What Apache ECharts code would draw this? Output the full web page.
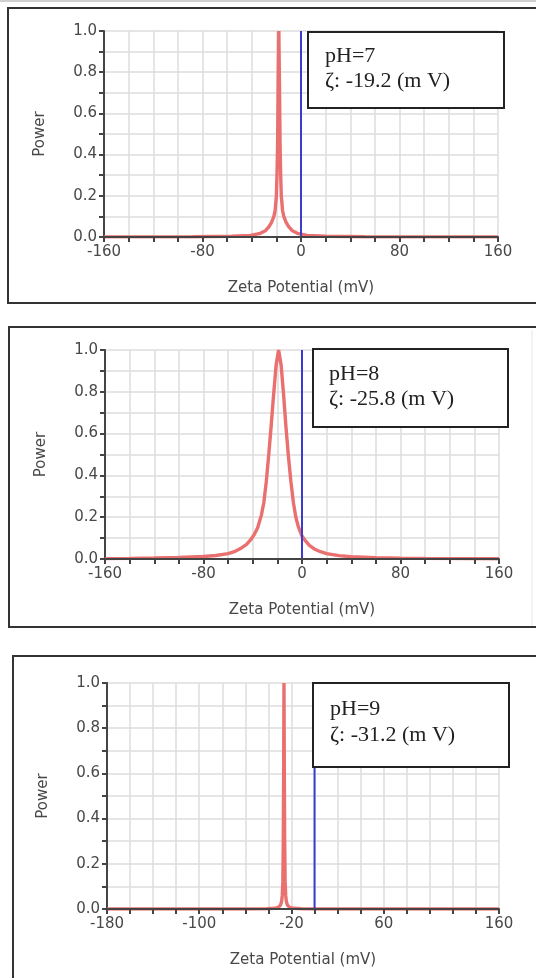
<!DOCTYPE html>
<html>
<head>
<meta charset="utf-8">
<script src="https://cdn.jsdelivr.net/npm/echarts@6/dist/echarts.min.js"></script>
<style>
html,body{margin:0;padding:0;background:#fff;}
#chart{width:536px;height:978px;}
</style>
</head>
<body>
<div id="chart"></div>
<script>
// ---- data ----
var xLabels12 = [-160, -80, 0, 80, 160];
var xLabels3 = [-180, -100, -20, 60, 160];
var yLabels = [0.0, 0.2, 0.4, 0.6, 0.8, 1.0];

// pH = 7 spectrum (x: mV, y: power)
var ph7 = [[-160,0.0005],[-88,0.0015],[-56,0.004],[-41,0.008],[-33,0.018],[-29,0.03],[-26,0.05],[-24,0.07],[-22,0.1],[-21,0.13],[-20,0.2],[-19.5,0.3],[-19,0.45],[-18.5,0.75],[-18,1.0],[-17.5,0.75],[-17,0.45],[-16.5,0.3],[-16,0.2],[-15,0.13],[-14,0.1],[-12,0.07],[-10,0.05],[-7,0.03],[-3,0.018],[5,0.008],[20,0.004],[52,0.0015],[160,0.0005]];
// pH = 8 spectrum
var ph8 = [[-160,0.002],[-140,0.003],[-120,0.005],[-100,0.008],[-80,0.012],[-70,0.017],[-60,0.026],[-55,0.035],[-50,0.05],[-45,0.07],[-42,0.09],[-39,0.115],[-36,0.15],[-33,0.21],[-31,0.27],[-29,0.37],[-27,0.5],[-25,0.64],[-23,0.79],[-21,0.93],[-19,1.0],[-17,0.93],[-15,0.79],[-13,0.63],[-11,0.49],[-9,0.37],[-7,0.27],[-5,0.2],[-3,0.155],[0,0.11],[3,0.085],[6,0.065],[10,0.048],[15,0.035],[20,0.026],[30,0.016],[40,0.011],[60,0.006],[80,0.004],[100,0.003],[130,0.002],[160,0.001]];
// pH = 9 spectrum
var ph9 = [[-180,0],[-60,0.0003],[-41.5,0.001],[-34.5,0.003],[-31.5,0.007],[-29.5,0.017],[-28.5,0.035],[-28,0.06],[-27.5,0.12],[-27.1,0.3],[-26.8,0.6],[-26.5,1.0],[-26.2,0.6],[-25.9,0.3],[-25.5,0.12],[-25,0.06],[-24.5,0.035],[-23.5,0.017],[-21.5,0.007],[-18.5,0.003],[-11.5,0.001],[0,0.0003],[160,0]];
// zero reference line
var zeroLine = [[0,0],[0,1]];

var titles = ['pH=7', 'pH=8', 'pH=9'];
var zetaTexts = ['\u03B6: -19.2 (m V)', '\u03B6: -25.8 (m V)', '\u03B6: -31.2 (m V)'];

// ---- chart ----
var chart = echarts.init(document.getElementById('chart'), null, {renderer:'canvas'});
var labelColor = '#484848';
var axisColor = '#444';
var gridColor = '#dcdcdc';

// main x axis: line, ticks, labels, name (drawn above the curves)
function makeX(idx, min, max, shown){
  return {
    type:'value', gridIndex:idx, min:min, max:max, interval:20, z:10,
    name:'Zeta Potential (mV)', nameLocation:'middle', nameGap:44,
    nameTextStyle:{color:labelColor, fontFamily:'DejaVu Sans', fontSize:15},
    axisLine:{show:true, onZero:false, lineStyle:{color:axisColor, width:2}},
    axisTick:{show:true, length:5, lineStyle:{color:axisColor, width:2}},
    axisLabel:{show:true, margin:8, color:labelColor, fontFamily:'DejaVu Sans', fontSize:15,
      showMinLabel:true, showMaxLabel:true,
      formatter:function(v){ return shown.indexOf(v) >= 0 ? String(v) : ''; }},
    splitLine:{show:false}
  };
}
// background x axis: only the vertical grid lines
function makeXGrid(idx, min, max){
  return {
    type:'value', gridIndex:idx, min:min, max:max, interval:20, z:0,
    axisLine:{show:false}, axisTick:{show:false}, axisLabel:{show:false},
    splitLine:{show:true, lineStyle:{color:gridColor, width:1.5}}
  };
}
function makeY(idx){
  return {
    type:'value', gridIndex:idx, min:0, max:1, interval:0.1,
    name:'Power', nameLocation:'middle', nameGap:56,
    nameTextStyle:{color:labelColor, fontFamily:'DejaVu Sans', fontSize:15},
    axisLine:{show:true, onZero:false, lineStyle:{color:axisColor, width:2}},
    axisTick:{show:true, length:5, lineStyle:{color:axisColor, width:2}},
    axisLabel:{show:true, margin:7, color:labelColor, fontFamily:'DejaVu Sans', fontSize:15,
      formatter:function(v){
        for (var i=0;i<yLabels.length;i++){ if (Math.abs(yLabels[i]-v) < 1e-6) return yLabels[i].toFixed(1); }
        return '';
      }},
    splitLine:{show:true, lineStyle:{color:gridColor, width:1.5}}
  };
}
function redSeries(idx, data){
  return {type:'line', xAxisIndex:idx, yAxisIndex:idx, data:data, showSymbol:false, symbol:'none',
    smooth:false, lineStyle:{color:'#ea6f6f', width:3.4}, z:3, animation:false};
}
function blueSeries(idx){
  return {type:'line', xAxisIndex:idx, yAxisIndex:idx, data:zeroLine, showSymbol:false, symbol:'none',
    lineStyle:{color:'#3b3bd0', width:2}, z:4, animation:false};
}

function frame(x, y, w, h){
  return {type:'rect', shape:{x:x, y:y, width:w, height:h}, style:{fill:'none', stroke:'#333', lineWidth:2}, z:100, silent:true};
}
function legendBox(x, y, w, h, t1, t2, tx, ty1, ty2){
  return [
    {type:'rect', shape:{x:x, y:y, width:w, height:h}, style:{fill:'#fff', stroke:'#222', lineWidth:2}, z:100, silent:true},
    {type:'text', x:tx, y:ty1, style:{text:t1, fill:'#222', font:'22px "Liberation Serif"', textVerticalAlign:'middle'}, z:101, silent:true},
    {type:'text', x:tx, y:ty2, style:{text:t2, fill:'#222', font:'22px "Liberation Serif"', textVerticalAlign:'middle'}, z:101, silent:true}
  ];
}

var graphics = [
  {type:'line', shape:{x1:0, y1:1, x2:536, y2:1}, style:{stroke:'#cfcfcf', lineWidth:2}, z:100, silent:true},
  frame(8, 8, 560, 295),
  frame(9, 327, 560, 300),
  {type:'line', shape:{x1:532, y1:330, x2:532, y2:626}, style:{stroke:'#e6e6e6', lineWidth:1}, z:100, silent:true},
  frame(13, 656, 560, 360)
].concat(
  legendBox(308, 32, 196, 76, titles[0], zetaTexts[0], 325, 56, 81),
  legendBox(313, 349, 195, 78, titles[1], zetaTexts[1], 329, 374, 399),
  legendBox(313, 683, 196, 84, titles[2], zetaTexts[2], 330, 709, 735)
);

var option = {
  backgroundColor:'#fff',
  animation:false,
  grid:[
    {left:104, top:31, width:394, height:206},
    {left:105, top:350, width:394, height:209},
    {left:107, top:683, width:392, height:226}
  ],
  xAxis:[
    makeX(0,-160,160,xLabels12), makeX(1,-160,160,xLabels12), makeX(2,-180,160,xLabels3),
    makeXGrid(0,-160,160), makeXGrid(1,-160,160), makeXGrid(2,-180,160)
  ],
  yAxis:[makeY(0), makeY(1), makeY(2)],
  series:[
    redSeries(0, ph7), blueSeries(0),
    redSeries(1, ph8), blueSeries(1),
    redSeries(2, ph9), blueSeries(2)
  ],
  graphic:graphics
};
chart.setOption(option);
</script>
</body>
</html>
